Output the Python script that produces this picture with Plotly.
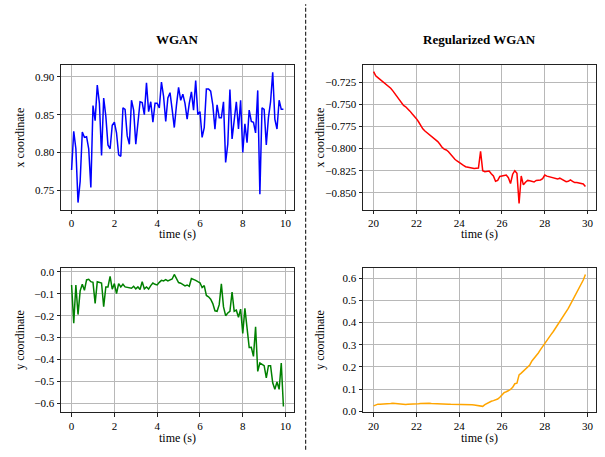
import plotly.graph_objects as go

# ---------------- data ----------------
t_wgan = [round(i * 0.1, 1) for i in range(100)]
t_reg = [round(20 + i * 0.1, 1) for i in range(100)]

wgan_x = [0.777, 0.828, 0.805, 0.734, 0.762, 0.827, 0.820, 0.821, 0.805, 0.754,
          0.862, 0.842, 0.889, 0.865, 0.796, 0.872, 0.848, 0.810, 0.805, 0.836,
          0.840, 0.826, 0.797, 0.795, 0.859, 0.857, 0.822, 0.811, 0.869, 0.856,
          0.811, 0.844, 0.867, 0.866, 0.850, 0.892, 0.854, 0.867, 0.840, 0.865,
          0.865, 0.859, 0.893, 0.874, 0.841, 0.872, 0.879, 0.857, 0.833, 0.862,
          0.886, 0.869, 0.877, 0.865, 0.844, 0.865, 0.880, 0.856, 0.895, 0.850,
          0.854, 0.820, 0.833, 0.884, 0.884, 0.881, 0.863, 0.831, 0.863, 0.846,
          0.846, 0.867, 0.787, 0.811, 0.883, 0.818, 0.839, 0.867, 0.831, 0.869,
          0.800, 0.838, 0.813, 0.856, 0.841, 0.840, 0.826, 0.882, 0.745, 0.859,
          0.857, 0.810, 0.846, 0.867, 0.906, 0.844, 0.831, 0.869, 0.857, 0.857]

wgan_y = [-0.060, -0.234, -0.060, -0.195, -0.087, -0.057, -0.084, -0.037, -0.034, -0.045,
          -0.048, -0.144, -0.045, -0.049, -0.051, -0.159, -0.069, -0.069, -0.021, -0.079,
          -0.054, -0.099, -0.054, -0.069, -0.057, -0.069, -0.072, -0.072, -0.075, -0.066,
          -0.078, -0.069, -0.081, -0.045, -0.078, -0.069, -0.079, -0.063, -0.051, -0.057,
          -0.060, -0.048, -0.039, -0.042, -0.036, -0.042, -0.037, -0.033, -0.012, -0.030,
          -0.049, -0.052, -0.058, -0.064, -0.060, -0.066, -0.031, -0.034, -0.039, -0.045,
          -0.050, -0.072, -0.063, -0.108, -0.114, -0.125, -0.145, -0.178, -0.180, -0.150,
          -0.055, -0.160, -0.200, -0.188, -0.180, -0.092, -0.180, -0.175, -0.207, -0.170,
          -0.281, -0.167, -0.251, -0.345, -0.344, -0.386, -0.251, -0.454, -0.416, -0.424,
          -0.428, -0.484, -0.428, -0.428, -0.506, -0.536, -0.503, -0.536, -0.416, -0.614]

reg_x = [-0.7127, -0.7175, -0.7195, -0.7215, -0.7235, -0.7255, -0.7275, -0.7290, -0.7315, -0.7345,
         -0.7380, -0.7415, -0.7450, -0.7485, -0.7510, -0.7525, -0.7545, -0.7575, -0.7605, -0.7630,
         -0.7660, -0.7695, -0.7740, -0.7775, -0.7800, -0.7820, -0.7835, -0.7855, -0.7875, -0.7895,
         -0.7920, -0.7950, -0.7985, -0.8005, -0.8015, -0.8035, -0.8065, -0.8095, -0.8120, -0.8140,
         -0.8160, -0.8175, -0.8190, -0.8205, -0.8210, -0.8220, -0.8222, -0.8225, -0.8222, -0.8220,
         -0.8030, -0.8250, -0.8262, -0.8255, -0.8255, -0.8285, -0.8310, -0.8370, -0.8360, -0.8315,
         -0.8310, -0.8305, -0.8300, -0.8330, -0.8395, -0.8290, -0.8250, -0.8280, -0.8622, -0.8310,
         -0.8410, -0.8380, -0.8360, -0.8365, -0.8370, -0.8378, -0.8360, -0.8360, -0.8355, -0.8340,
         -0.8300, -0.8312, -0.8318, -0.8325, -0.8330, -0.8340, -0.8345, -0.8335, -0.8350, -0.8365,
         -0.8375, -0.8370, -0.8355, -0.8370, -0.8385, -0.8385, -0.8388, -0.8390, -0.8400, -0.8430]

reg_y = [0.024, 0.029, 0.032, 0.032, 0.032, 0.032, 0.033, 0.034, 0.035, 0.036,
         0.035, 0.033, 0.030, 0.030, 0.030, 0.030, 0.031, 0.031, 0.032, 0.032,
         0.033, 0.034, 0.035, 0.036, 0.036, 0.036, 0.036, 0.035, 0.035, 0.034,
         0.033, 0.032, 0.033, 0.034, 0.033, 0.032, 0.031, 0.031, 0.032, 0.032,
         0.032, 0.031, 0.030, 0.029, 0.029, 0.030, 0.029, 0.028, 0.027, 0.026,
         0.024, 0.022, 0.030, 0.036, 0.042, 0.045, 0.048, 0.051, 0.055, 0.063,
         0.075, 0.084, 0.088, 0.093, 0.098, 0.108, 0.124, 0.127, 0.164, 0.172,
         0.181, 0.192, 0.202, 0.209, 0.227, 0.238, 0.250, 0.263, 0.278, 0.293,
         0.307, 0.321, 0.334, 0.347, 0.360, 0.374, 0.388, 0.402, 0.417, 0.432,
         0.447, 0.464, 0.482, 0.500, 0.518, 0.535, 0.552, 0.570, 0.592, 0.617]

col_titles = ["WGAN", "Regularized WGAN"]
x_label = "time (s)"
y_labels = ["x coordinate", "y coordinate"]

ticks_wgan_t = [0, 2, 4, 6, 8, 10]
ticks_reg_t = [20, 22, 24, 26, 28, 30]
ticks_wgan_x = [0.75, 0.80, 0.85, 0.90]
ticks_reg_x = [-0.850, -0.825, -0.800, -0.775, -0.750, -0.725]
ticks_wgan_y = [-0.6, -0.5, -0.4, -0.3, -0.2, -0.1, 0.0]
ticks_reg_y = [0.0, 0.1, 0.2, 0.3, 0.4, 0.5, 0.6]

# ---------------- figure ----------------
W, H = 605, 457
FONT = "Liberation Serif"

def px_x(p):
    return p / W

def px_y(p):
    return 1 - p / H

fig = go.Figure()
fig.add_trace(go.Scatter(x=t_wgan, y=wgan_x, mode="lines", line=dict(color="#0000ff", width=1.5),
                         xaxis="x", yaxis="y", showlegend=False))
fig.add_trace(go.Scatter(x=t_reg, y=reg_x, mode="lines", line=dict(color="#ff0000", width=1.5),
                         xaxis="x2", yaxis="y2", showlegend=False))
fig.add_trace(go.Scatter(x=t_wgan, y=wgan_y, mode="lines", line=dict(color="#008000", width=1.5),
                         xaxis="x3", yaxis="y3", showlegend=False))
fig.add_trace(go.Scatter(x=t_reg, y=reg_y, mode="lines", line=dict(color="#ffa500", width=1.5),
                         xaxis="x4", yaxis="y4", showlegend=False))

common = dict(showline=True, linecolor="#222222", linewidth=1, mirror=True,
              ticks="outside", ticklen=3.5, tickwidth=1, tickcolor="#222222",
              showgrid=True, gridcolor="#b8b8b8", gridwidth=1, zeroline=False,
              tickfont=dict(family=FONT, size=11, color="black"))

left_dom = [px_x(61), px_x(294)]
right_dom = [px_x(363), px_x(596)]
top_dom = [px_y(211), px_y(64)]
bot_dom = [px_y(416.5), px_y(270)]

def trange(lo, hi):
    m = (hi - lo) * 0.05
    return [lo - m, hi + m]

fig.update_layout(
    width=W, height=H, margin=dict(l=0, r=0, t=0, b=0),
    paper_bgcolor="white", plot_bgcolor="white",
    font=dict(family=FONT, color="black"),
    xaxis=dict(common, domain=left_dom, anchor="y", range=trange(0, 9.9), tickvals=ticks_wgan_t),
    yaxis=dict(common, domain=top_dom, anchor="x", range=[0.7245, 0.9155], tickvals=ticks_wgan_x,
               tickformat=".2f"),
    xaxis2=dict(common, domain=right_dom, anchor="y2", range=trange(20, 29.9), tickvals=ticks_reg_t),
    yaxis2=dict(common, domain=top_dom, anchor="x2", range=[-0.8693, -0.7052], tickvals=ticks_reg_x,
                tickformat=".3f"),
    xaxis3=dict(common, domain=left_dom, anchor="y3", range=trange(0, 9.9), tickvals=ticks_wgan_t),
    yaxis3=dict(common, domain=bot_dom, anchor="x3", range=[-0.640, 0.018], tickvals=ticks_wgan_y,
                tickformat=".1f"),
    xaxis4=dict(common, domain=right_dom, anchor="y4", range=trange(20, 29.9), tickvals=ticks_reg_t),
    yaxis4=dict(common, domain=bot_dom, anchor="x4", range=[-0.004, 0.647], tickvals=ticks_reg_y,
                tickformat=".1f"),
)

ann = []
for cx, txt in zip([177.5, 479.5], col_titles):
    ann.append(dict(x=px_x(cx), y=px_y(38), xref="paper", yref="paper", text="<b>%s</b>" % txt,
                    showarrow=False, font=dict(family=FONT, size=13, color="black"),
                    xanchor="center", yanchor="middle"))
for cx in [177.5, 479.5]:
    for cy in [236, 443]:
        ann.append(dict(x=px_x(cx), y=px_y(cy), xref="paper", yref="paper", text=x_label,
                        showarrow=False, font=dict(family=FONT, size=12, color="black"),
                        xanchor="center", yanchor="middle"))
for cx in [20, 320]:
    for cy, lab in zip([137.5, 343], y_labels):
        ann.append(dict(x=px_x(cx), y=px_y(cy), xref="paper", yref="paper", text=lab,
                        showarrow=False, textangle=-90, font=dict(family=FONT, size=12, color="black"),
                        xanchor="center", yanchor="middle"))
fig.update_layout(annotations=ann)

fig.add_shape(type="line", xref="paper", yref="paper", x0=px_x(305.7), x1=px_x(305.7),
              y0=0.005, y1=0.995, line=dict(color="black", width=1, dash="4px,2px"))

fig.write_html("out.html")
